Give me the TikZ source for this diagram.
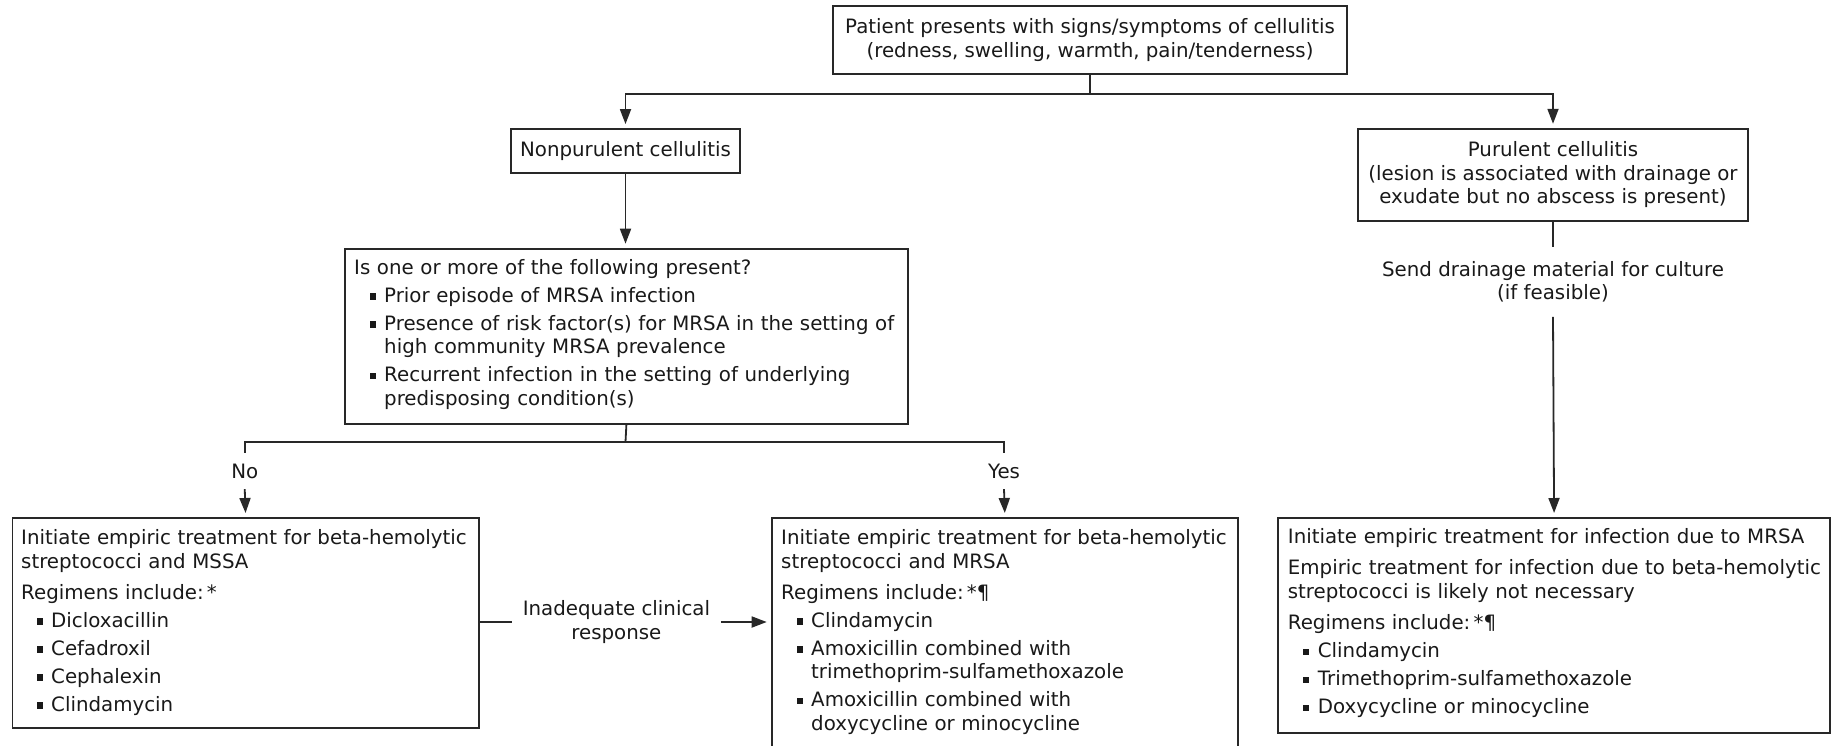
\documentclass[tikz,border=0pt]{standalone}
\usepackage{fontspec}
\setmainfont{DejaVu Sans}
\usetikzlibrary{arrows.meta}
\definecolor{ink}{RGB}{25,25,25}
\definecolor{lin}{RGB}{40,40,40}
\newcommand{\bsq}{\rule[2.6pt]{6pt}{6.5pt}}
\newcommand{\bitem}[1]{\par\vspace{4.3pt}{\leftskip=30pt\noindent\llap{\bsq\hspace{8.5pt}}#1\par}}
\newcommand{\pgap}{\par\vspace{7.8pt}}
\tikzset{
  x=1pt, y=-1pt,
  every node/.style={text=ink, font=\fontsize{19.8pt}{23.6pt}\selectfont},
  box/.style={draw=lin, line width=1.8pt, rectangle, inner sep=0pt, align=center},
  txt/.style={inner sep=0pt, text width=700pt, align=left, anchor=base west},
  lbl/.style={inner sep=0pt, align=center},
  conn/.style={draw=lin, line width=1.8pt},
  arr/.style={conn, -{Triangle[length=15pt,width=11pt]}, shorten >=4pt},
}
\begin{document}
\begin{tikzpicture}
\useasboundingbox (0,0) rectangle (1831,745);
% boxes
\node[box, minimum width=514pt, minimum height=68pt] (T) at (1090,40)
  {Patient presents with signs/symptoms of cellulitis\\(redness, swelling, warmth, pain/tenderness)};
\node[box, minimum width=229pt, minimum height=44pt] (NP) at (625.5,151) {Nonpurulent cellulitis};
\node[box, minimum width=390pt, minimum height=92pt] (P) at (1553,174.7)
  {Purulent cellulitis\\(lesion is associated with drainage or\\exudate but no abscess is present)};
\node[box, minimum width=563pt, minimum height=175pt, anchor=north west] (Q) at (344,247.7) {};
\node[box, minimum width=466.5pt, minimum height=209.7pt, anchor=north west] (L) at (11.5,517) {};
\node[box, minimum width=466.7pt, minimum height=245pt, anchor=north west] (M) at (770.7,517) {};
\node[box, minimum width=551.6pt, minimum height=214.7pt, anchor=north west] (R) at (1277.4,517) {};
% box texts
\node[txt] (Qt) at (354,274.5) {Is one or more of the following present?%
  \bitem{Prior episode of MRSA infection}%
  \bitem{Presence of risk factor(s) for MRSA in the setting of\newline high community MRSA prevalence}%
  \bitem{Recurrent infection in the setting of underlying\newline predisposing condition(s)}};
\node[txt] (Lt) at (21,544.5) {Initiate empiric treatment for beta-hemolytic\newline streptococci and MSSA%
  \pgap Regimens include:\,*%
  \bitem{Dicloxacillin}\bitem{Cefadroxil}\bitem{Cephalexin}\bitem{Clindamycin}};
\node[txt] (Mt) at (781,544.5) {Initiate empiric treatment for beta-hemolytic\newline streptococci and MRSA%
  \pgap Regimens include:\,*¶%
  \bitem{Clindamycin}%
  \bitem{Amoxicillin combined with\newline trimethoprim-sulfamethoxazole}%
  \bitem{Amoxicillin combined with\newline doxycycline or minocycline}};
\node[txt] (Rt) at (1287.7,543.5) {Initiate empiric treatment for infection due to MRSA%
  \pgap Empiric treatment for infection due to beta-hemolytic\newline streptococci is likely not necessary%
  \pgap Regimens include:\,*¶%
  \bitem{Clindamycin}\bitem{Trimethoprim-sulfamethoxazole}\bitem{Doxycycline or minocycline}};
% labels on connectors
\node[lbl, minimum height=36pt] (no) at (244.75,471) {No};
\node[lbl, minimum height=36pt] (yes) at (1004,471) {Yes};
\node[lbl, minimum height=70pt] (send) at (1553,281.7) {Send drainage material for culture\\(if feasible)};
\node[lbl, minimum width=208.7pt] (inad) at (616.4,622) {Inadequate clinical\\response};
% connectors
\coordinate (j1) at (1090,93.7);
\coordinate (j2) at (625.5,442);
\draw[conn] (T.south) -- (j1);
\draw[arr] (j1) -| (NP.north);
\draw[arr] (j1) -| (P.north);
\draw[arr] (NP.south) -- (NP.south |- Q.north);
\draw[conn] (no.north) |- (j2) -| (yes.north);
\draw[conn] (Q.south) -- (j2);
\draw[arr] (no.south) -- (L.north);
\draw[arr] (yes.south) -- (M.north);
\draw[conn] (P.south) -- (send.north);
\draw[arr] (send.south) -- (R.north);
\draw[conn] (L.east |- inad.west) -- (inad.west);
\draw[arr] (inad.east) -- (inad.east -| M.west);
\end{tikzpicture}
\end{document}
